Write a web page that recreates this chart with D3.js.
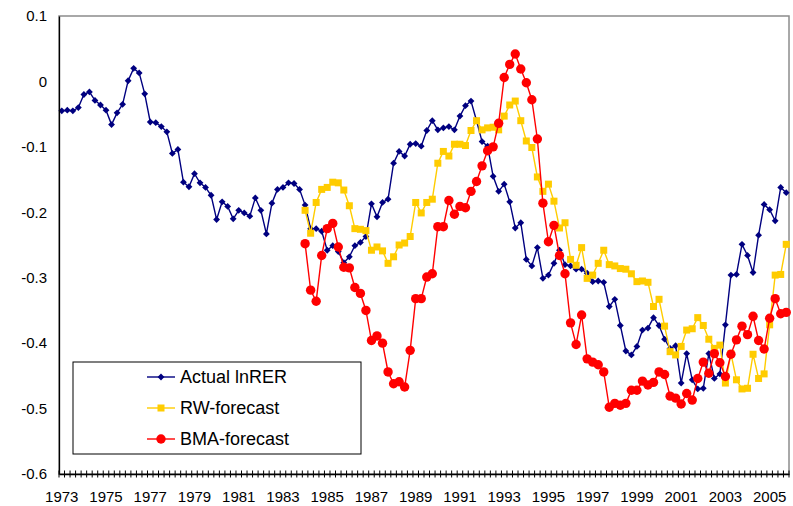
<!DOCTYPE html>
<html>
<head>
<meta charset="utf-8">
<script src="https://cdn.jsdelivr.net/npm/d3@7/dist/d3.min.js"></script>
<style>
  html, body { margin: 0; padding: 0; background: #fff; }
  svg { display: block; font-family: "Liberation Sans", Arial, sans-serif; }
</style>
</head>
<body>
<svg id="chart" width="793" height="506"></svg>
<script>
// Quarterly sample, 1973Q1 – 2005Q4
const firstYear = 1973;
const lastYear = 2005;
const quarters = [];
for (let yr = firstYear; yr <= lastYear; yr++) {
  for (let q = 1; q <= 4; q++) quarters.push(yr + "Q" + q);
}

// Year labels shown on the category axis (every second year, first quarter)
const yearLabels = ["1973","1975","1977","1979","1981","1983","1985","1987",
  "1989","1991","1993","1995","1997","1999","2001","2003","2005"];

// Value axis
const yTicks = [0.1, 0, -0.1, -0.2, -0.3, -0.4, -0.5, -0.6];
const yTickLabels = ["0.1", "0", "-0.1", "-0.2", "-0.3", "-0.4", "-0.5", "-0.6"];

// Actual log real exchange rate, 1973Q1 – 2005Q4
const actual = [
  -0.045, -0.044, -0.045, -0.040, -0.020, -0.016, -0.029, -0.036,
  -0.044, -0.066, -0.048, -0.035, 0.001, 0.020, 0.013, -0.019,
  -0.062, -0.063, -0.069, -0.077, -0.110, -0.104, -0.154, -0.161,
  -0.141, -0.155, -0.162, -0.174, -0.211, -0.184, -0.191, -0.210,
  -0.197, -0.201, -0.206, -0.178, -0.197, -0.233, -0.186, -0.165,
  -0.162, -0.155, -0.156, -0.165, -0.189, -0.225, -0.225, -0.229,
  -0.258, -0.251, -0.260, -0.277, -0.268, -0.251, -0.246, -0.237,
  -0.187, -0.207, -0.185, -0.180, -0.125, -0.107, -0.114, -0.096,
  -0.095, -0.099, -0.075, -0.060, -0.074, -0.071, -0.069, -0.074,
  -0.053, -0.037, -0.030, -0.060, -0.092, -0.099, -0.145, -0.168,
  -0.157, -0.184, -0.224, -0.216, -0.272, -0.282, -0.254, -0.301,
  -0.296, -0.278, -0.258, -0.280, -0.282, -0.287, -0.287, -0.293,
  -0.306, -0.305, -0.307, -0.344, -0.333, -0.373, -0.412, -0.418,
  -0.405, -0.380, -0.377, -0.361, -0.373, -0.394, -0.408, -0.404,
  -0.461, -0.416, -0.456, -0.470, -0.469, -0.416, -0.454, -0.447,
  -0.372, -0.296, -0.295, -0.249, -0.266, -0.292, -0.235, -0.188,
  -0.196, -0.213, -0.162, -0.170
];

// Forecasts start in 1984Q1
const forecastStart = "1984Q1";

// Random-walk forecast, 1984Q1 – 2005Q4
const rwForecast = [
  -0.197, -0.232, -0.185, -0.165, -0.162, -0.154, -0.155, -0.166,
  -0.190, -0.225, -0.226, -0.228, -0.258, -0.253, -0.259, -0.278,
  -0.268, -0.250, -0.247, -0.237, -0.185, -0.201, -0.185, -0.180,
  -0.125, -0.107, -0.114, -0.096, -0.096, -0.098, -0.075, -0.060,
  -0.074, -0.071, -0.070, -0.074, -0.053, -0.036, -0.030, -0.060,
  -0.091, -0.101, -0.146, -0.168, -0.157, -0.183, -0.224, -0.216,
  -0.272, -0.281, -0.254, -0.301, -0.296, -0.278, -0.258, -0.280,
  -0.282, -0.286, -0.287, -0.294, -0.306, -0.305, -0.307, -0.344,
  -0.333, -0.374, -0.413, -0.418, -0.405, -0.380, -0.378, -0.361,
  -0.373, -0.394, -0.408, -0.403, -0.461, -0.416, -0.456, -0.470,
  -0.469, -0.417, -0.454, -0.447, -0.372, -0.296, -0.295, -0.249
];

// Bayesian model averaging forecast, 1984Q1 – 2005Q4
const bmaForecast = [
  -0.248, -0.319, -0.336, -0.266, -0.225, -0.217, -0.253, -0.284,
  -0.285, -0.315, -0.324, -0.350, -0.396, -0.389, -0.400, -0.444,
  -0.462, -0.459, -0.467, -0.411, -0.332, -0.332, -0.299, -0.294,
  -0.222, -0.222, -0.182, -0.203, -0.191, -0.193, -0.168, -0.153,
  -0.129, -0.106, -0.100, -0.064, 0.006, 0.026, 0.042, 0.019,
  -0.002, -0.028, -0.088, -0.186, -0.245, -0.220, -0.266, -0.294,
  -0.369, -0.402, -0.357, -0.424, -0.429, -0.433, -0.444, -0.498,
  -0.492, -0.495, -0.492, -0.472, -0.472, -0.458, -0.464, -0.460,
  -0.444, -0.448, -0.481, -0.484, -0.493, -0.477, -0.487, -0.454,
  -0.429, -0.446, -0.416, -0.430, -0.451, -0.417, -0.395, -0.374,
  -0.387, -0.359, -0.396, -0.409, -0.362, -0.332, -0.355, -0.353
];

const seriesNames = ["Actual lnRER", "RW-forecast", "BMA-forecast"];

// ---------------------------------------------------------------
const svg = d3.select("#chart");
const plot = { left: 59, right: 789, top: 16, bottom: 474 };

const x = d3.scaleBand().domain(quarters).range([plot.left, plot.right]).padding(0);
const y = d3.scaleLinear().domain([-0.6, 0.1]).range([plot.bottom, plot.top]);
const cx = q => x(q) + x.bandwidth() / 2;

const startIdx = quarters.indexOf(forecastStart);
const toPoints = (vals, offset) => vals.map((v, i) => ({ q: quarters[i + offset], v }));

const series = [
  { name: seriesNames[0], pts: toPoints(actual, 0), color: "#000080", shape: "diamond" },
  { name: seriesNames[1], pts: toPoints(rwForecast, startIdx), color: "#FFCC00", shape: "square" },
  { name: seriesNames[2], pts: toPoints(bmaForecast, startIdx), color: "#FF0000", shape: "circle" }
];

// Plot area frame (grey), axes drawn on top in black
svg.append("rect")
  .attr("x", plot.left).attr("y", plot.top)
  .attr("width", plot.right - plot.left).attr("height", plot.bottom - plot.top)
  .attr("fill", "#fff").attr("stroke", "#8c8c8c").attr("stroke-width", 1.5);

// Marker drawing
function marker(sel, shape, color) {
  if (shape === "circle") {
    sel.append("circle").attr("r", 4.7).attr("fill", color);
  } else if (shape === "square") {
    sel.append("rect").attr("x", -3.5).attr("y", -3.5).attr("width", 7).attr("height", 7).attr("fill", color);
  } else {
    sel.append("path").attr("d", "M0,-3.4L3.4,0L0,3.4L-3.4,0Z").attr("fill", color);
  }
}

const line = d3.line().x(d => cx(d.q)).y(d => y(d.v));

series.forEach(s => {
  const g = svg.append("g");
  g.append("path").datum(s.pts)
    .attr("d", line).attr("fill", "none")
    .attr("stroke", s.color).attr("stroke-width", 1.4);
  g.selectAll("g.m").data(s.pts).join("g")
    .attr("class", "m")
    .attr("transform", d => `translate(${cx(d.q)},${y(d.v)})`)
    .each(function () { marker(d3.select(this), s.shape, s.color); });
});

// Value axis
const yAxis = d3.axisLeft(y)
  .tickValues(yTicks)
  .tickFormat((d, i) => yTickLabels[i])
  .tickSize(0).tickPadding(12);
const gy = svg.append("g").attr("transform", `translate(${plot.left},0)`).call(yAxis);
gy.select(".domain").attr("stroke", "#000").attr("stroke-width", 1.3);
gy.selectAll("text").attr("font-size", 15).attr("fill", "#000")
  .attr("font-family", "Liberation Sans, Arial, sans-serif");

// Category axis: year labels on first quarter of odd years
const labelQuarters = yearLabels.map(yl => yl + "Q1");
const xAxis = d3.axisBottom(x)
  .tickValues(labelQuarters)
  .tickFormat(q => q.slice(0, 4))
  .tickSize(0).tickPadding(17);
const gx = svg.append("g").attr("transform", `translate(0,${plot.bottom})`).call(xAxis);
gx.select(".domain").attr("stroke", "#000").attr("stroke-width", 1.3);
gx.selectAll("text").attr("font-size", 15).attr("fill", "#000")
  .attr("font-family", "Liberation Sans, Arial, sans-serif");

// Cross tick marks on every quarter boundary
const boundaries = quarters.map(q => x(q)).concat([plot.right]);
svg.append("g").selectAll("line").data(boundaries).join("line")
  .attr("x1", d => d).attr("x2", d => d)
  .attr("y1", plot.bottom - 3.5).attr("y2", plot.bottom + 3.5)
  .attr("stroke", "#000").attr("stroke-width", 1);

// Legend
const legend = svg.append("g");
legend.append("rect")
  .attr("x", 73).attr("y", 362).attr("width", 288).attr("height", 92)
  .attr("fill", "#fff").attr("stroke", "#000").attr("stroke-width", 1);
const rows = legend.selectAll("g.row").data(series).join("g")
  .attr("class", "row")
  .attr("transform", (d, i) => `translate(0,${377 + i * 31})`);
rows.append("line")
  .attr("x1", 147).attr("x2", 175).attr("y1", 0).attr("y2", 0)
  .attr("stroke", d => d.color).attr("stroke-width", 1.4);
rows.append("g").attr("transform", "translate(161,0)")
  .each(function (d) { marker(d3.select(this), d.shape, d.color); });
rows.append("text")
  .attr("x", 180).attr("y", 0).attr("dy", "0.36em")
  .attr("font-size", 18).attr("fill", "#000")
  .text(d => d.name);
</script>
</body>
</html>
